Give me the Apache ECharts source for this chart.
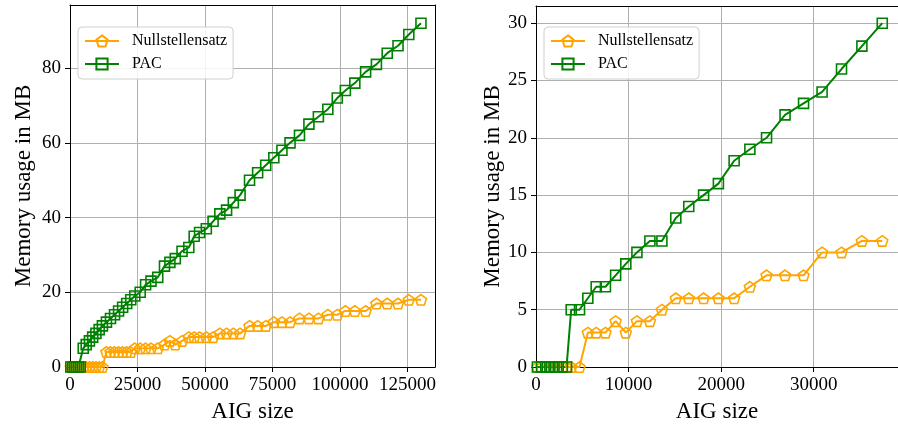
<!DOCTYPE html>
<html>
<head>
<meta charset="utf-8">
<script src="https://cdn.jsdelivr.net/npm/echarts@6/dist/echarts.min.js"></script>
<style>
  html, body { margin: 0; padding: 0; background: #ffffff; }
  #chart { width: 898px; height: 428px; }
</style>
</head>
<body>
<div id="chart"></div>
<script>
// left panel: all AIG sizes
var leftSize = [300, 1000, 1700, 2400, 3100, 3800, 4900, 6000, 7200, 8400, 9600, 10800, 12000,
  13500, 15000, 16500, 18000, 19500, 21000, 22500, 24000, 26000, 28000, 30000, 32500, 35000,
  37000, 39000, 41500, 44000, 46000, 48000, 50500, 53000, 55500, 58000, 60500, 63000, 66500,
  69500, 72500, 75500, 78500, 81500, 85000, 88500, 92000, 95500, 99000, 102000, 105500, 109500,
  113500, 117500, 121500, 125500, 130000];
var leftNull = [0, 0, 0, 0, 0, 0, 0, 0, 0, 0, 0, 0, 0,
  4, 4, 4, 4, 4, 4, 4, 5, 5, 5, 5, 5, 6,
  7, 6, 7, 8, 8, 8, 8, 8, 9, 9, 9, 9, 11,
  11, 11, 12, 12, 12, 13, 13, 13, 14, 14, 15, 15, 15,
  17, 17, 17, 18, 18];
var leftPac = [0, 0, 0, 0, 0, 0, 5, 6, 7, 8, 9, 10, 11,
  12, 13, 14, 15, 16, 17, 18, 19, 20, 22, 23, 24, 27,
  28, 29, 31, 32, 35, 36, 37, 39, 41, 42, 44, 46, 50,
  52, 54, 56, 58, 60, 62, 65, 67, 69, 72, 74, 76, 79,
  81, 84, 86, 89, 92];

// right panel: small AIGs
var rightSize = [150, 600, 1050, 1500, 1950, 2400, 2850, 3300, 3800, 4700, 5600, 6500, 7500,
  8600, 9700, 10900, 12300, 13600, 15100, 16500, 18100, 19700, 21400, 23100, 24900, 26900,
  28900, 30900, 33000, 35200, 37400];
var rightNull = [0, 0, 0, 0, 0, 0, 0, 0, 0, 0, 3, 3, 3,
  4, 3, 4, 4, 5, 6, 6, 6, 6, 6, 7, 8, 8,
  8, 10, 10, 11, 11];
var rightPac = [0, 0, 0, 0, 0, 0, 0, 0, 5, 5, 6, 7, 7,
  8, 9, 10, 11, 11, 13, 14, 15, 16, 18, 19, 20, 22,
  23, 24, 26, 28, 30];

var leftXTicks = [0, 25000, 50000, 75000, 100000, 125000];
var leftYTicks = [0, 20, 40, 60, 80];
var rightXTicks = [0, 10000, 20000, 30000];
var rightYTicks = [0, 5, 10, 15, 20, 25, 30];

var ORANGE = '#ffa500';
var GREEN = '#008000';
var FONT = 'Liberation Serif';
var pentagon = 'path://M50,0 L97.6,34.5 L79.4,90.5 L20.6,90.5 L2.4,34.5 Z';

function zip(xs, ys) {
  return xs.map(function (x, i) { return [x, ys[i]]; });
}

function valueAxis(grid, min, max, ticks, pos, name, gap) {
  return {
    type: 'value',
    gridIndex: grid,
    position: pos,
    min: min,
    max: max,
    interval: ticks[1] - ticks[0],
    name: name,
    nameLocation: 'middle',
    nameGap: gap,
    nameTextStyle: { fontFamily: FONT, fontSize: 23, color: '#000' },
    axisLine: { show: true, onZero: false, lineStyle: { color: '#000', width: 1 } },
    axisTick: { show: true, length: 5, lineStyle: { color: '#000' } },
    axisLabel: {
      fontFamily: FONT, fontSize: 19, color: '#000', margin: 9,
      showMaxLabel: false,
      formatter: function (v) { return String(v); }
    },
    splitLine: { show: true, lineStyle: { color: '#b0b0b0', width: 1 } }
  };
}

function frameAxis(grid, pos, min, max) {
  return {
    type: 'value',
    gridIndex: grid,
    position: pos,
    min: min,
    max: max,
    axisLine: { show: true, onZero: false, lineStyle: { color: '#000', width: 1 } },
    axisTick: { show: false },
    axisLabel: { show: false },
    splitLine: { show: false }
  };
}

function lineSeries(name, xi, yi, data, color, symbol, size) {
  return {
    name: name,
    type: 'line',
    xAxisIndex: xi,
    yAxisIndex: yi,
    data: data,
    color: color,
    symbol: symbol,
    symbolSize: size,
    symbolKeepAspect: true,
    showAllSymbol: true,
    lineStyle: { color: color, width: 2 },
    itemStyle: { color: 'rgba(255,255,255,0)', borderColor: color, borderWidth: 1.6 }
  };
}

function legendAt(left) {
  return {
    left: left,
    top: 27,
    orient: 'vertical',
    itemWidth: 34,
    itemHeight: 14,
    itemGap: 7,
    padding: [6, 6, 7, 6],
    backgroundColor: 'rgba(255,255,255,0.85)',
    borderColor: '#d0d0d0',
    borderWidth: 1,
    borderRadius: 4,
    textStyle: { fontFamily: FONT, fontSize: 16, color: '#000', padding: [0, 0, 0, 8] },
    data: ['Nullstellensatz', 'PAC']
  };
}

var chart = echarts.init(document.getElementById('chart'));
var option = {
  animation: false,
  backgroundColor: '#ffffff',
  grid: [
    { left: 70, top: 5, width: 365, height: 363 },
    { left: 536, top: 6, width: 366, height: 362 }
  ],
  legend: [legendAt(78), legendAt(544)],
  xAxis: [
    valueAxis(0, 0, 135200, leftXTicks, 'bottom', 'AIG size', 33),
    valueAxis(1, 0, 39100, rightXTicks, 'bottom', 'AIG size', 33),
    frameAxis(0, 'top', 0, 135200),
    frameAxis(1, 'top', 0, 39100)
  ],
  yAxis: [
    valueAxis(0, 0, 96.9, leftYTicks, 'left', 'Memory usage in MB', 35),
    valueAxis(1, 0, 31.5, rightYTicks, 'left', 'Memory usage in MB', 32),
    frameAxis(0, 'right', 0, 96.9)
  ],
  series: [
    lineSeries('Nullstellensatz', 0, 0, zip(leftSize, leftNull), ORANGE, pentagon, 11),
    lineSeries('PAC', 0, 0, zip(leftSize, leftPac), GREEN, 'rect', 10),
    lineSeries('Nullstellensatz', 1, 1, zip(rightSize, rightNull), ORANGE, pentagon, 11),
    lineSeries('PAC', 1, 1, zip(rightSize, rightPac), GREEN, 'rect', 10)
  ]
};
chart.setOption(option);
</script>
</body>
</html>
